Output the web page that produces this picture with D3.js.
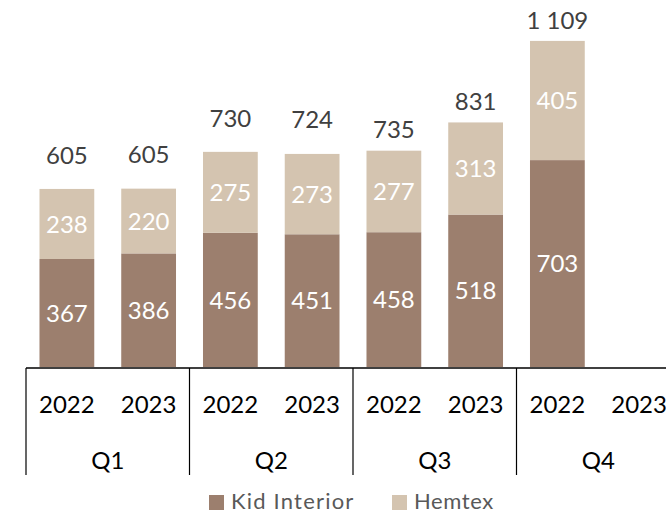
<!DOCTYPE html>
<html><head><meta charset="utf-8">
<script src="https://cdn.jsdelivr.net/npm/d3@7"></script>
<style>body{margin:0;background:#fff}svg{display:block}</style>
</head><body><svg id="c" width="666" height="513"></svg>
<script>
const quarters = ["Q1","Q2","Q3","Q4"];
const years = ["2022","2023"];
const kidInterior = [367,386,456,451,458,518,703,null];
const hemtex = [238,220,275,273,277,313,405,null];
const totalLabels = ["605","605","730","724","735","831","1 109",null];
const seriesNames = ["Kid Interior","Hemtex"];
const colors = ["#9c7f6e","#d4c4b0"];
// label gap (px) above each bar top, as placed in the reference
const totalGap = [34,34,34,35,21,21,21,0];

const svg = d3.select("#c");
const font = "Lato, 'Open Sans', sans-serif";
const fs = "24px";
const cats = [];
quarters.forEach(q => years.forEach(y => cats.push(q + "-" + y)));
const left = 26, slot = 81.75;
const x = d3.scaleBand().domain(cats).range([left, left + slot*8]).paddingInner(0.33).paddingOuter(0.165);
const y = d3.scaleLinear().domain([0, 1247]).range([367, 0]);

const g = svg.append("g");
cats.forEach((c,i) => {
  if (kidInterior[i] == null) return;
  const k = kidInterior[i], h = hemtex[i];
  g.append("rect").attr("x", x(c)).attr("width", x.bandwidth())
    .attr("y", y(k)).attr("height", y(0)-y(k)).attr("fill", colors[0]);
  g.append("rect").attr("x", x(c)).attr("width", x.bandwidth())
    .attr("y", y(k+h)).attr("height", y(k)-y(k+h)).attr("fill", colors[1]);
  const cx = x(c) + x.bandwidth()/2;
  g.append("text").attr("x", cx).attr("y", (y(0)+y(k))/2).attr("dy","0.36em")
    .attr("text-anchor","middle").attr("fill","#fff").style("font-family",font).style("font-size",fs).text(k);
  g.append("text").attr("x", cx).attr("y", (y(k)+y(k+h))/2).attr("dy","0.36em")
    .attr("text-anchor","middle").attr("fill","#fff").style("font-family",font).style("font-size",fs).text(h);
  g.append("text").attr("x", cx).attr("y", y(k+h) - totalGap[i]).attr("dy","0.36em")
    .attr("text-anchor","middle").attr("fill","#404040").style("font-family",font).style("font-size",fs).text(totalLabels[i]);
});

// axis
const ax = svg.append("g");
ax.append("line").attr("x1", left).attr("x2", 666).attr("y1", 368).attr("y2", 368)
  .attr("stroke","#000").attr("stroke-width",1.5);
quarters.forEach((q,qi) => {
  const sx = left + qi*slot*2;
  ax.append("line").attr("x1", sx).attr("x2", sx).attr("y1", 368).attr("y2", 475)
    .attr("stroke","#000").attr("stroke-width",1.2);
  years.forEach(yr => {
    const c = q+"-"+yr;
    ax.append("text").attr("x", x(c)+x.bandwidth()/2).attr("y", 404).attr("dy","0.36em")
      .attr("text-anchor","middle").attr("fill","#000").style("font-family",font).style("font-size",fs).text(yr);
  });
  ax.append("text").attr("x", sx + slot).attr("y", 460).attr("dy","0.36em")
    .attr("text-anchor","middle").attr("fill","#000").style("font-family",font).style("font-size",fs).text(q);
});

// legend
const lg = svg.append("g");
const legX = [209, 392];
seriesNames.forEach((n,i) => {
  lg.append("rect").attr("x", legX[i]).attr("y", 495).attr("width", 15).attr("height", 15).attr("fill", colors[i]);
  lg.append("text").attr("x", legX[i]+22).attr("y", 501).attr("dy","0.36em")
    .attr("fill","#595959").style("font-family",font).style("font-size","22px")
    .style("letter-spacing", i===0 ? "1.2px" : "0.6px").text(n);
});
</script></body></html>
